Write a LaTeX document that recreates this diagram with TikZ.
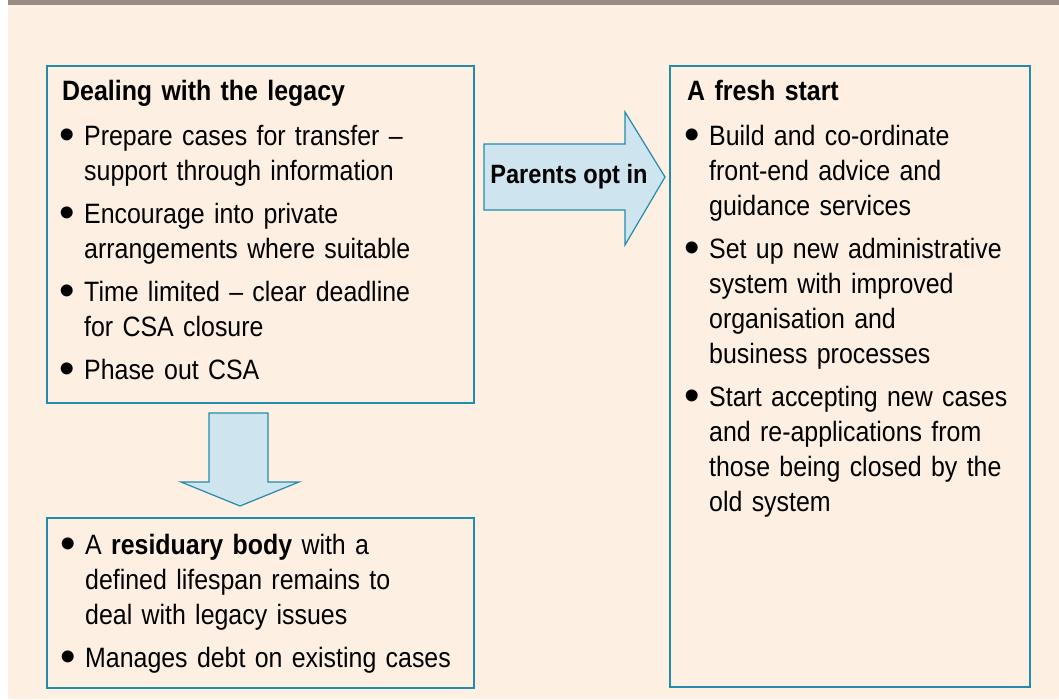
\documentclass[tikz,border=0pt]{standalone}
\usepackage{fontspec}
\setmainfont{Liberation Sans}[FakeStretch=0.89]
\newfontfamily\bulletfont{Liberation Sans}
\usetikzlibrary{positioning}

\definecolor{cream}{RGB}{253,240,226}
\definecolor{topbar}{RGB}{151,139,130}
\definecolor{tealline}{RGB}{35,140,172}
\definecolor{arrowblue}{RGB}{206,228,238}

\newcommand{\bodyfont}{\fontsize{28}{35}\selectfont}
\newcommand{\bulletmark}{\hspace{-2.5pt}\raisebox{-4pt}{\bulletfont\fontsize{44}{35}\selectfont\textbullet}}
\newcommand{\bulletline}{\noindent\hangindent=22pt\hangafter=1\makebox[22pt][l]{\bulletmark}}
\newcommand{\bitem}{\par\vspace{8pt}\bulletline}

\tikzset{panel/.style={draw=tealline, line width=1.5pt, fill=cream,
                       inner sep=0pt, anchor=north west},
         blockarrow/.style={draw=tealline, line width=1.2pt,
                            fill=arrowblue, line join=miter},
         panetext/.style={anchor=base west, inner sep=0pt,
                          text width=#1, align=left, font=\bodyfont}}

\begin{document}
\begin{tikzpicture}[x=1pt, y=-1pt]

  %%%%%%%%%%%%%%%%%%%%%%%%%%%%%%
  % page
  \useasboundingbox (0, 0) rectangle (1059, 699);
  \fill[cream] (8, 0) rectangle (1059, 699);
  \fill[topbar] (8, 0) rectangle (1059, 5);

  %%%%%%%%%%%%%%%%%%%%%%%%%%%%%%
  % boxes
  \node (legacy) at (46, 65) [panel, minimum width=427pt, minimum height=337pt] {};
  \node (residual) at (46, 517) [panel, minimum width=427pt, minimum height=170pt] {};
  \node (fresh) at (669, 65) [panel, minimum width=360pt, minimum height=621pt] {};

  %%%%%%%%%%%%%%%%%%%%%%%%%%%%%%
  % texts
  \node (legacy_txt) at (62, 100) [panetext=400pt] {%
    \noindent\textbf{Dealing with the legacy}\par\vspace{2pt}
    \bitem Prepare cases for transfer --\newline support through information
    \bitem Encourage into private\newline arrangements where suitable
    \bitem Time limited -- clear deadline\newline for CSA closure
    \bitem Phase out CSA\par};

  \node (residual_txt) at (63, 554) [panetext=400pt] {%
    \bulletline A \textbf{residuary body} with a\newline defined lifespan remains to\newline deal with legacy issues
    \bitem Manages debt on existing cases\par};

  \node (fresh_txt) at (687, 100) [panetext=340pt] {%
    \noindent\textbf{A fresh start}\par\vspace{2pt}
    \bitem Build and co-ordinate\newline front-end advice and\newline guidance services
    \bitem Set up new administrative\newline system with improved\newline organisation and\newline business processes
    \bitem Start accepting new cases\newline and re-applications from\newline those being closed by the\newline old system\par};

  %%%%%%%%%%%%%%%%%%%%%%%%%%%%%%
  % arrows
  \draw[blockarrow] (484, 144) -- (625, 144) -- (625, 112) -- (665, 177)
    -- (625, 245) -- (625, 210) -- (484, 210) -- cycle;
  \node (optin) at (569, 177) [font=\fontsize{26.5}{35}\selectfont\bfseries, inner sep=0pt] {Parents opt in};

  \draw[blockarrow] (209, 413) -- (268, 413) -- (268, 482) -- (299, 482)
    -- (240, 506) -- (181, 482) -- (209, 482) -- cycle;

\end{tikzpicture}
\end{document}
